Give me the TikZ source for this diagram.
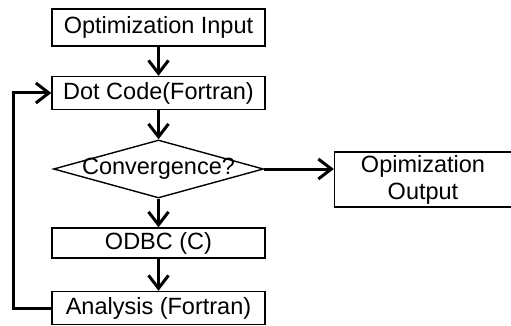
\documentclass[tikz,border=0pt]{standalone}
\usepackage{fontspec}
\setmainfont{Liberation Sans}
\usetikzlibrary{positioning}
\usetikzlibrary{arrows.meta}
\usetikzlibrary{shapes.geometric}

\tikzset{
  block/.style={draw, line width=1.4pt, minimum width=213pt, minimum height=33pt, inner sep=0pt},
  decision/.style={diamond, draw, line width=1.4pt, minimum width=210pt, minimum height=58pt, inner sep=0pt},
  flow/.style={-{Straight Barb[length=13pt,width=20pt]}, line width=3pt}
}

\begin{document}
\begin{tikzpicture}[x=1pt,y=1pt,node distance=70pt,on grid,font=\fontsize{23.5}{27}\selectfont]
			   \useasboundingbox (0,0) rectangle (511,-326);
			   \node[block, minimum height=37pt] (inp) at (158.5,-27.5) {Optimization Input};
			   \node[block] (dot) [below=65.5pt of inp] {Dot Code(Fortran)};
			   \node[decision, label={center:Convergence?}] (conv) [below=76pt of dot] {};
			   \node[block, minimum height=30pt] (odbc) [below=74pt of conv] {ODBC (C)};
			   \node[block] (ana) [below=65pt of odbc] {Analysis (Fortran)};
			   \node[block, minimum width=177pt, minimum height=55pt, align=center] (out)
			      [below right=10.5pt and 264.5pt of conv] {Opimization\\Output};
				\draw[flow] (inp) -- (dot);
				\draw[flow] (dot) -- (conv);
				\draw[flow] (conv) -- (odbc);
				\draw[flow] (odbc) -- (ana);
				\draw[flow] (conv.east) -- (conv.east -| out.west);
				\draw[flow] (ana.west) -- ++(-38,0) |- (dot.west);
			\end{tikzpicture}
\end{document}
